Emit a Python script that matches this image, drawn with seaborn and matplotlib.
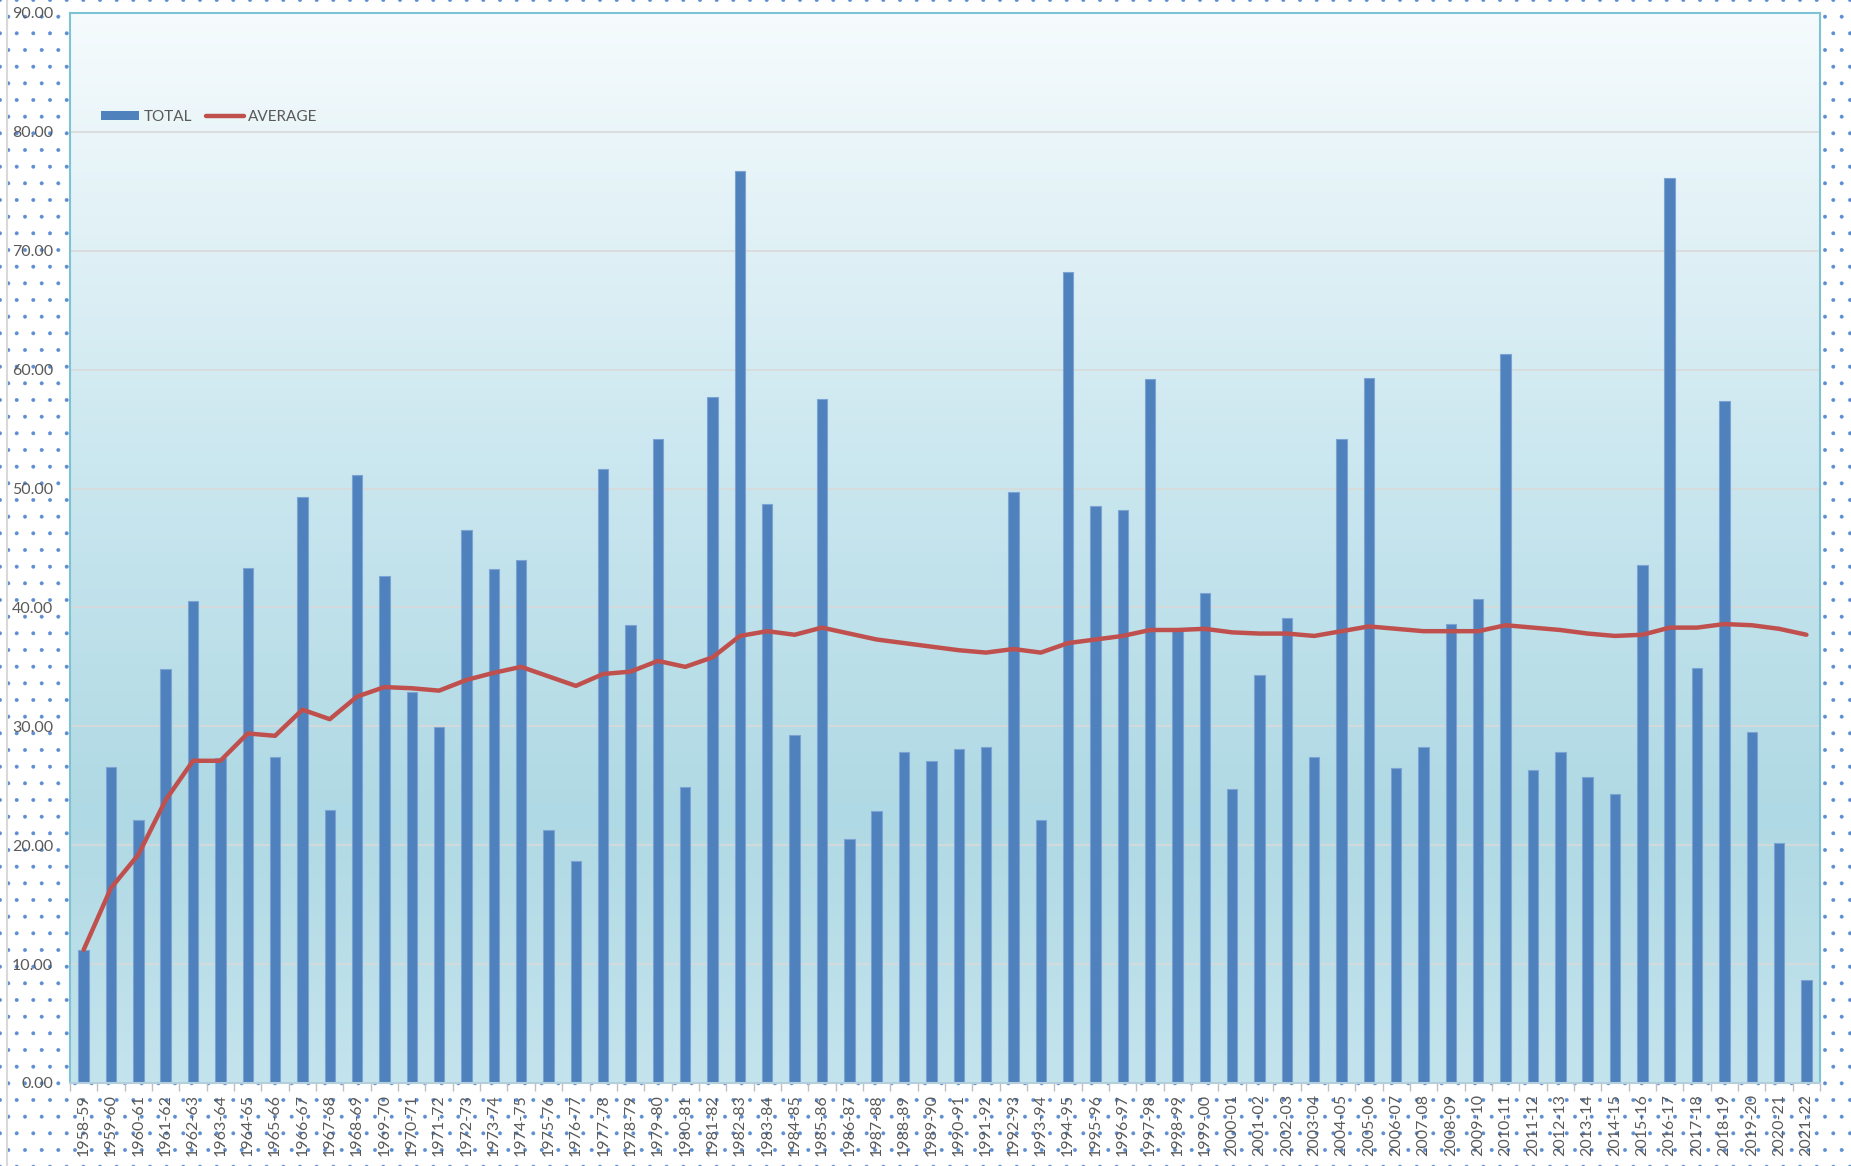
import numpy as np
import pandas as pd
import matplotlib.pyplot as plt
import seaborn as sns
from matplotlib.colors import LinearSegmentedColormap
from matplotlib.patches import Patch
from matplotlib.lines import Line2D

# seasonal totals and running average
seasons = ["1958-59", "1959-60", "1960-61", "1961-62", "1962-63", "1963-64", "1964-65", "1965-66",
           "1966-67", "1967-68", "1968-69", "1969-70", "1970-71", "1971-72", "1972-73", "1973-74",
           "1974-75", "1975-76", "1976-77", "1977-78", "1978-79", "1979-80", "1980-81", "1981-82",
           "1982-83", "1983-84", "1984-85", "1985-86", "1986-87", "1987-88", "1988-89", "1989-90",
           "1990-91", "1991-92", "1992-93", "1993-94", "1994-95", "1995-96", "1996-97", "1997-98",
           "1998-99", "1999-00", "2000-01", "2001-02", "2002-03", "2003-04", "2004-05", "2005-06",
           "2006-07", "2007-08", "2008-09", "2009-10", "2010-11", "2011-12", "2012-13", "2013-14",
           "2014-15", "2015-16", "2016-17", "2017-18", "2018-19", "2019-20", "2020-21", "2021-22"]
total = [11.2, 26.6, 22.1, 34.8, 40.5, 27.3, 43.3, 27.4,
         49.3, 23.0, 51.1, 42.6, 32.9, 29.9, 46.5, 43.2,
         44.0, 21.3, 18.7, 51.6, 38.5, 54.2, 24.9, 57.7,
         76.7, 48.7, 29.3, 57.5, 20.5, 22.9, 27.8, 27.1,
         28.1, 28.3, 49.7, 22.1, 68.2, 48.5, 48.2, 59.2,
         38.1, 41.2, 24.7, 34.3, 39.1, 27.4, 54.2, 59.3,
         26.5, 28.3, 38.6, 40.7, 61.3, 26.3, 27.8, 25.7,
         24.3, 43.6, 76.1, 34.9, 57.4, 29.5, 20.2, 8.7]
average = [11.2, 16.4, 19.2, 23.8, 27.1, 27.1, 29.4, 29.2,
           31.4, 30.6, 32.5, 33.3, 33.2, 33.0, 33.9, 34.5,
           35.0, 34.2, 33.4, 34.4, 34.6, 35.5, 35.0, 35.8,
           37.6, 38.0, 37.7, 38.3, 37.8, 37.3, 37.0, 36.7,
           36.4, 36.2, 36.5, 36.2, 37.0, 37.3, 37.6, 38.1,
           38.1, 38.2, 37.9, 37.8, 37.8, 37.6, 38.0, 38.4,
           38.2, 38.0, 38.0, 38.0, 38.5, 38.3, 38.1, 37.8,
           37.6, 37.7, 38.3, 38.3, 38.6, 38.5, 38.2, 37.7]

df = pd.DataFrame({"season": seasons, "total": total, "average": average})

sns.set_theme(style="white")
plt.rcParams["font.family"] = ["Lato", "DejaVu Sans"]
plt.rcParams["hatch.color"] = "#5B8DD0"
plt.rcParams["hatch.linewidth"] = 0.35

fig = plt.figure(figsize=(18.51, 11.66), dpi=100)
fig.patch.set_facecolor("white")
fig.patch.set_edgecolor("#5B8DD0")
fig.patch.set_linewidth(0)
fig.patch.set_hatch(".")
fig.add_artist(Line2D([0.0038, 0.0038], [0, 1], transform=fig.transFigure, color="#D9D9D9", lw=1.5))

ax = fig.add_axes([0.0378, 0.0712, 0.9455, 0.9177])

# gradient plot area
bg = LinearSegmentedColormap.from_list(
    "bg", [(0, "#C4E4ED"), (0.25, "#AFD9E4"), (0.6, "#CDE8F0"), (1, "#F6FBFD")])
ax.imshow(np.linspace(0, 1, 256).reshape(-1, 1), cmap=bg, origin="lower",
          extent=[0, 1, 0, 1], transform=ax.transAxes, aspect="auto", zorder=0)

sns.barplot(data=df, x="season", y="total", color="#4F81BD", saturation=1, width=0.38,
            edgecolor="#7BA3D3", linewidth=0.8, ax=ax, zorder=2)
sns.pointplot(data=df, x="season", y="average", color="#C0504D", markers="",
              errorbar=None, linewidth=3.2, ax=ax, zorder=3)

ax.set_xlim(-0.5, len(seasons) - 0.5)
ax.set_ylim(0, 90)
ax.set_yticks(np.arange(0, 91, 10))
ax.set_yticklabels([f"{v:.2f}" for v in np.arange(0, 91, 10)])
ax.yaxis.grid(True, color="#D9D9D9", lw=1.2)
ax.set_axisbelow(True)
ax.set_xlabel("")
ax.set_ylabel("")

ax.tick_params(axis="y", length=0, pad=12, labelsize=11.5, labelcolor="#595959")
ax.tick_params(axis="x", which="major", length=0, pad=8, labelsize=11.5,
               labelcolor="#595959", labelrotation=90)
ax.set_xticks(np.arange(-0.5, len(seasons), 1), minor=True)
ax.tick_params(axis="x", which="minor", bottom=True, length=6, width=1, color="#BFBFBF")

for side in ["left", "top", "right"]:
    ax.spines[side].set_color("#7DC3D4")
    ax.spines[side].set_linewidth(1.5)
ax.spines["bottom"].set_color("#B4CFDC")
ax.spines["bottom"].set_linewidth(1.5)

handles = [Patch(facecolor="#4F81BD", edgecolor="none"),
           Line2D([], [], color="#C0504D", lw=3.2)]
ax.legend(handles, ["TOTAL", "AVERAGE"], loc="center left", bbox_to_anchor=(0.0175, 0.903),
          ncol=2, frameon=False, fontsize=11, labelcolor="#595959", handlelength=2.5,
          handleheight=0.6, handletextpad=0.3, columnspacing=0.9, borderpad=0, borderaxespad=0)

fig.savefig("out.png", dpi=100)
